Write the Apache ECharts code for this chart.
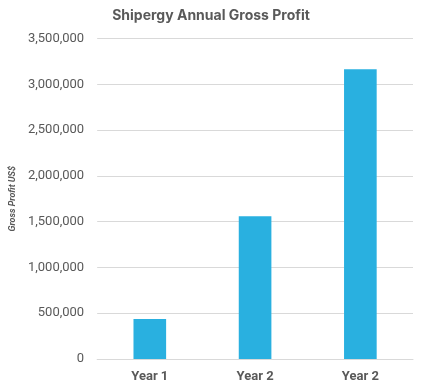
<!DOCTYPE html>
<html><head><meta charset="utf-8">
<script src="https://cdn.jsdelivr.net/npm/echarts@6/dist/echarts.min.js"></script>
<style>html,body{margin:0;padding:0;background:#fff}#c{width:422px;height:390px}</style>
</head><body><div id="c"></div>
<script>
const categories = ["Year 1", "Year 2", "Year 2"];
const grossProfit = [437000, 1558000, 3164000];
const chartTitle = "Shipergy Annual Gross Profit";
const yAxisName = "Gross Profit US$";

const chart = echarts.init(document.getElementById('c'), null, {renderer: 'canvas'});
chart.setOption({
  animation: false,
  title: {
    text: chartTitle, left: 'center', top: 4,
    textStyle: {fontFamily: 'Inter', fontWeight: 'bold', fontSize: 14, color: '#595959'}
  },
  grid: {left: 93, right: 9, top: 38.5, bottom: 31, containLabel: false},
  xAxis: {
    type: 'category', data: categories,
    axisLine: {show: true, lineStyle: {color: '#d9d9d9'}},
    axisTick: {show: false},
    axisLabel: {fontFamily: 'Roboto', fontWeight: 'bold', fontSize: 13, color: '#595959', margin: 11}
  },
  yAxis: {
    type: 'value', min: 0, max: 3500000, interval: 500000,
    name: yAxisName, nameLocation: 'middle', nameGap: 77, nameRotate: 90,
    nameTextStyle: {fontFamily: 'Roboto', fontStyle: 'italic', fontWeight: 'bold', fontSize: 9, color: '#595959'},
    axisLine: {show: false}, axisTick: {show: false},
    splitLine: {lineStyle: {color: '#d9d9d9'}},
    axisLabel: {
      fontFamily: 'Roboto', fontSize: 13, color: '#595959', margin: 13,
      formatter: v => v.toLocaleString('en-US')
    }
  },
  series: [{
    type: 'bar', data: grossProfit, barWidth: '31%',
    itemStyle: {color: '#29B0E0'}
  }]
});
</script></body></html>
